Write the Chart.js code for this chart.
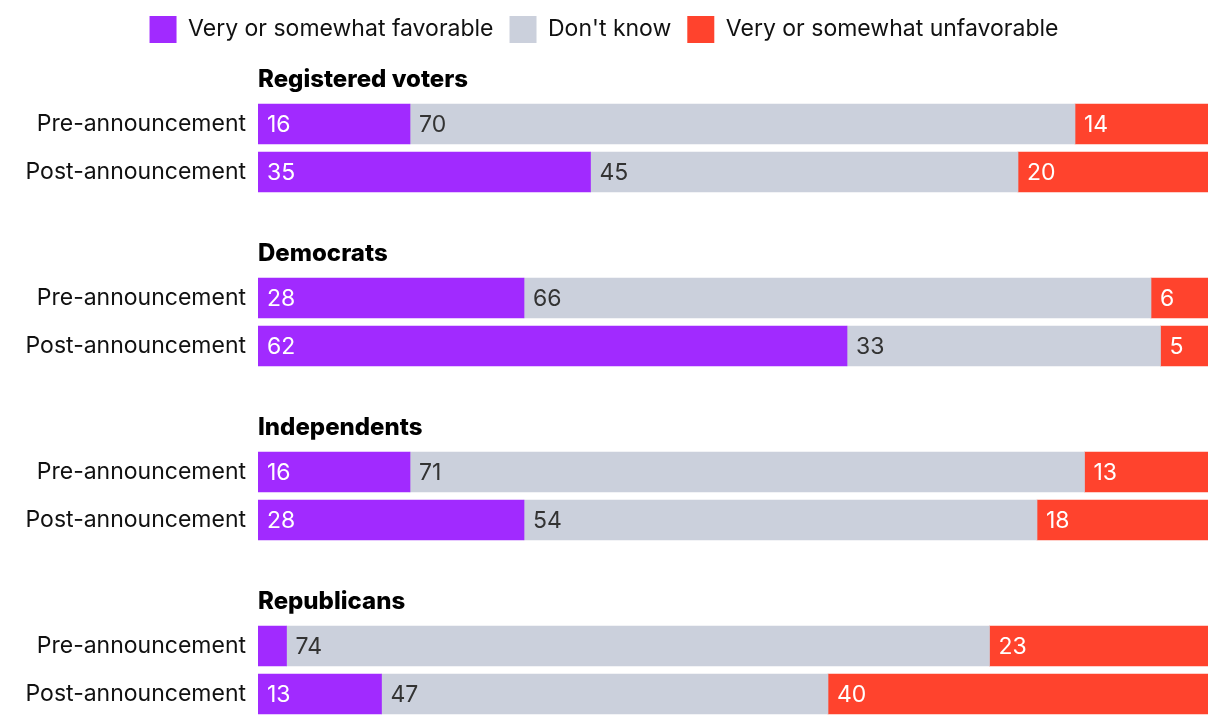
<!DOCTYPE html>
<html>
<head>
<meta charset="utf-8">
<script src="https://cdn.jsdelivr.net/npm/chart.js@4.4.1/dist/chart.umd.min.js"></script>
<style>
  html, body { margin: 0; padding: 0; background: #fff; }
  #wrap { width: 1220px; height: 726px; position: relative; }
</style>
</head>
<body>
<div id="wrap"><canvas id="chart"></canvas></div>
<script>
// data
const groups = ["Registered voters", "Democrats", "Independents", "Republicans"];
const periods = ["Pre-announcement", "Post-announcement"];
const favorable   = [16, 35, 28, 62, 16, 28, 3, 13];
const dontKnow    = [70, 45, 66, 33, 71, 54, 74, 47];
const unfavorable = [14, 20, 6, 5, 13, 18, 23, 40];
const seriesNames = ["Very or somewhat favorable", "Don't know", "Very or somewhat unfavorable"];

const colors = ["#a12aff", "#cbd0dc", "#ff432d"];
const labelColors = ["#ffffff", "#333333", "#ffffff"];
const FONT = "Inter";

// row layout (y scale runs in pixels, top of plot to bottom of canvas)
const PLOT_TOP = 53;
const FIRST_HEADER = 80;
const GROUP_STEP = 174;
const ROW_OFFSETS = [44, 92];

const headerPos = groups.map((g, i) => FIRST_HEADER + i * GROUP_STEP);
const rowPos = [];
const rowLabels = [];
groups.forEach((g, i) => {
    periods.forEach((p, j) => {
        rowPos.push(headerPos[i] + ROW_OFFSETS[j]);
        rowLabels.push(p);
    });
});

function toPoints(values) {
    return values.map((v, i) => ({ x: v, y: rowPos[i] }));
}

const allSeries = [favorable, dontKnow, unfavorable];

// group headers, drawn above each pair of bars
const headerPlugin = {
    id: "groupHeaders",
    afterDraw(chart) {
        const ctx = chart.ctx;
        const yScale = chart.scales.y;
        ctx.save();
        ctx.font = `800 24px ${FONT}`;
        ctx.fillStyle = "#000";
        ctx.textAlign = "left";
        ctx.textBaseline = "middle";
        groups.forEach((g, i) => {
            ctx.fillText(g, chart.chartArea.left, yScale.getPixelForValue(headerPos[i]));
        });
        ctx.restore();
    }
};

// numbers inside the bars
const valueLabels = {
    id: "valueLabels",
    afterDatasetsDraw(chart) {
        const ctx = chart.ctx;
        ctx.save();
        ctx.font = `400 23px ${FONT}`;
        ctx.textAlign = "left";
        ctx.textBaseline = "middle";
        chart.data.datasets.forEach((ds, d) => {
            const meta = chart.getDatasetMeta(d);
            meta.data.forEach((bar, i) => {
                const v = allSeries[d][i];
                if (v < 4) return; // too thin to hold a label
                ctx.fillStyle = labelColors[d];
                ctx.fillText(v, Math.min(bar.base, bar.x) + 9, bar.y + 1);
            });
        });
        ctx.restore();
    }
};

new Chart(document.getElementById("chart"), {
    type: "bar",
    data: {
        datasets: allSeries.map((vals, d) => ({
            label: seriesNames[d],
            data: toPoints(vals),
            backgroundColor: colors[d],
            borderWidth: 0,
            barThickness: 40
        }))
    },
    options: {
        indexAxis: "y",
        responsive: true,
        maintainAspectRatio: false,
        animation: false,
        layout: { padding: { top: 0, right: 12, bottom: 0, left: 0 } },
        scales: {
            x: {
                stacked: true,
                min: 0,
                max: 100,
                display: false
            },
            y: {
                type: "linear",
                stacked: true,
                reverse: true,
                offset: false,
                min: PLOT_TOP,
                max: 726,
                grid: { display: false, drawTicks: false },
                border: { display: false },
                afterBuildTicks: axis => {
                    axis.ticks = rowPos.map(v => ({ value: v }));
                },
                afterFit: axis => {
                    axis.width = 258;
                    axis.paddingTop = 0;
                    axis.paddingBottom = 0;
                },
                ticks: {
                    padding: 12,
                    color: "#111",
                    font: { family: FONT, size: 23 },
                    callback: (value) => {
                        const i = rowPos.indexOf(value);
                        return i >= 0 ? rowLabels[i] : "";
                    }
                }
            }
        },
        plugins: {
            legend: {
                position: "top",
                align: "center",
                labels: {
                    boxWidth: 27,
                    boxHeight: 27,
                    padding: 16,
                    color: "#111",
                    font: { family: FONT, size: 23 }
                }
            },
            tooltip: { enabled: false }
        }
    },
    plugins: [headerPlugin, valueLabels]
});
</script>
</body>
</html>
